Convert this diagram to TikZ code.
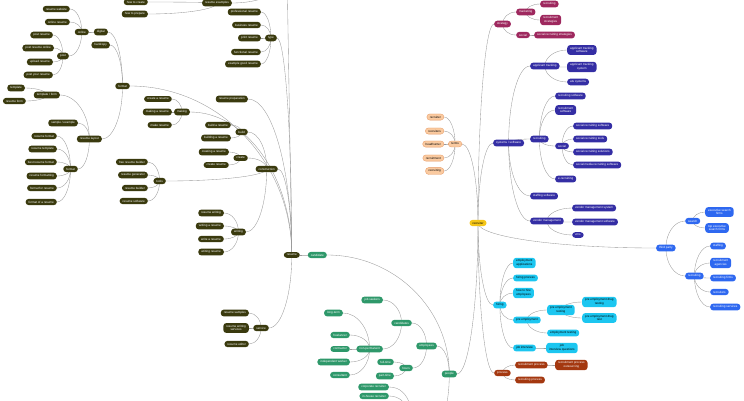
\documentclass[tikz,border=0pt]{standalone}
\usepackage{fontspec}
\setmainfont{Liberation Sans}
\usetikzlibrary{calc,backgrounds}
\definecolor{olivedk}{RGB}{58,58,14}
\definecolor{leaf}{RGB}{46,152,106}
\definecolor{plum}{RGB}{158,40,94}
\definecolor{navy}{RGB}{52,46,164}
\definecolor{peach}{RGB}{250,202,160}
\definecolor{peachdk}{RGB}{228,150,96}
\definecolor{gold}{RGB}{245,198,24}
\definecolor{sky}{RGB}{28,198,240}
\definecolor{rust}{RGB}{164,56,16}
\definecolor{azure}{RGB}{46,104,240}
\newcommand\lk[2]{\draw[link] (#1.east) .. controls ($(#1.east)!.55!(#2.center |- #1.east)$)
  and ($(#2.center)!.55!(#2.center |- #1.east)$) .. (#2.center);}
\newcommand\rk[2]{\draw[link] (#1.west) .. controls ($(#1.west)!.55!(#2.center |- #1.west)$)
  and ($(#2.center)!.55!(#2.center |- #1.west)$) .. (#2.center);}

\begin{document}
\begin{tikzpicture}[x=1pt,y=-1pt,
  every node/.style={font=\fontsize{3}{3.6}\selectfont,align=center},
  mm/.style={rounded corners=3pt,inner xsep=3pt,inner ysep=2pt},
  res/.style={mm,fill=olivedk,text=white},
  ppl/.style={mm,fill=leaf,text=white},
  strat/.style={mm,fill=plum,text=white},
  sys/.style={mm,fill=navy,text=white},
  term/.style={mm,fill=peach,draw=peachdk,line width=.3pt,text=black},
  hub/.style={mm,fill=gold,text=black},
  hire/.style={mm,fill=sky,text=black},
  proc/.style={mm,fill=rust,text=white},
  agcy/.style={mm,fill=azure,text=white},
  lft/.style={anchor=east},
  rgt/.style={anchor=west},
  link/.style={draw=black!40,line width=.35pt}
 ]
  \useasboundingbox (0,0) rectangle (744,400);
  \node[hub] (hub) at (478,223) {recruiter};
  \node[term,lft] (terms) at (462,144) {terms};
  \node[term,lft] (t1) at (444,117) {recruiter};
  \node[term,lft] (t2) at (444,131) {recruiters};
  \node[term,lft] (t3) at (444,144) {headhunter};
  \node[term,lft] (t4) at (444,158) {recruitment};
  \node[term,lft] (t5) at (444,171) {recruiting};

  \node[res,lft] (hcreate) at (148,2) {how to create};
  \node[res,lft] (hprep) at (148,14) {how to prepare};
  \node[res,lft] (rex) at (232,3) {resume examples};
  \coordinate (rtopc) at (287,-30);
  \node[res,lft] (type) at (277,38) {type};
  \node[res,lft] (ty1) at (261,12) {professional resume};
  \node[res,lft] (ty2) at (261,25) {business resume};
  \node[res,lft] (ty3) at (261,38) {print resume};
  \node[res,lft] (ty4) at (261,52) {functional resume};
  \node[res,lft] (ty5) at (261,64) {example good resume};
  \node[res,lft] (fmt) at (130,86) {format};
  \node[res,lft] (digi) at (108,32) {digital};
  \node[res,lft] (hard) at (110,45) {hardcopy};
  \node[res,lft] (onl) at (89,32) {online};
  \node[res,lft] (on1) at (70,9) {resume website};
  \node[res,lft] (on2) at (70,22) {online resume};
  \node[res,lft] (post) at (69,56) {post};
  \node[res,lft] (po1) at (53,35) {post resume};
  \node[res,lft] (po2) at (54,48) {post resume online};
  \node[res,lft] (po3) at (53,62) {upload resume};
  \node[res,lft] (po4) at (53,75) {post your resume};
  \node[res,lft] (lay) at (102,139) {resume layout};
  \node[res,lft] (tpl) at (60,95) {template / form};
  \node[res,lft] (tp1) at (25,88) {template};
  \node[res,lft] (tp2) at (26,101) {resume form};
  \node[res,lft] (smp) at (78,123) {sample / example};
  \node[res,lft] (fmt2) at (78,169) {format};
  \node[res,lft] (fm1) at (57,136) {resume format};
  \node[res,lft] (fm2) at (57,149) {resume template};
  \node[res,lft] (fm3) at (57,162) {best resume format};
  \node[res,lft] (fm4) at (57,176) {resume formatting};
  \node[res,lft] (fm5) at (57,188) {format for resume};
  \node[res,lft] (fm6) at (57,202) {format of a resume};
  \node[res,lft] (prep) at (248,99) {resume preparation};
  \node[res,lft] (mak) at (190,112) {making};
  \node[res,lft] (mk1) at (172,99) {create a resume};
  \node[res,lft] (mk2) at (172,112) {making a resume};
  \node[res,lft] (mk3) at (172,125) {make resume};
  \node[res,lft] (cons) at (278,169) {construction};
  \node[res,lft] (bld) at (248,132) {build};
  \node[res,lft] (bd1) at (231,125) {build a resume};
  \node[res,lft] (bd2) at (231,138) {building a resume};
  \node[res,lft] (crt) at (248,158) {create};
  \node[res,lft] (cr1) at (229,152) {creating a resume};
  \node[res,lft] (cr2) at (229,165) {create resume};
  \node[res,lft] (tool) at (166,181) {tools};
  \node[res,lft] (to1) at (148,162) {free resume builder};
  \node[res,lft] (to2) at (148,175) {resume generator};
  \node[res,lft] (to3) at (148,188) {resume builder};
  \node[res,lft] (to4) at (148,201) {resume software};
  \node[res,lft] (wri) at (246,232) {writing};
  \node[res,lft] (wr1) at (224,213) {resume writing};
  \node[res,lft] (wr2) at (224,226) {writing a resume};
  \node[res,lft] (wr3) at (224,239) {write a resume};
  \node[res,lft] (wr4) at (224,252) {writing resume};
  \node[res,lft] (svc) at (269,328) {service};
  \node[res,lft] (sv1) at (249,313) {resume samples};
  \node[res,lft] (sv2) at (249,328) {resume writing\\services};
  \node[res,lft] (sv3) at (249,344) {resume editor};
  \node[res,lft] (resume) at (300,255) {resume};

  \node[ppl,lft] (cand) at (327,255) {candidate};
  \node[ppl,lft] (people) at (457,374) {people};
  \node[ppl,lft] (emp) at (437,346) {employees};
  \node[ppl,lft] (cands) at (412,323) {candidates};
  \node[ppl,lft] (seek) at (383,300) {job seekers};
  \node[ppl,lft] (nonp) at (383,349) {non-permanent};
  \node[ppl,lft] (np1) at (343,313) {long-term};
  \node[ppl,lft] (np2) at (350,335) {freelancer};
  \node[ppl,lft] (np3) at (350,349) {contractor};
  \node[ppl,lft] (np4) at (350,362) {independent worker};
  \node[ppl,lft] (np5) at (350,375) {consultant};
  \node[ppl,lft] (hrs) at (413,368) {hours};
  \node[ppl,lft] (hr1) at (394,362) {full-time};
  \node[ppl,lft] (hr2) at (394,376) {part-time};
  \node[ppl,lft] (corp) at (389,387) {corporate recruiter};
  \node[ppl,lft] (inh) at (389,396) {in-house recruiter};
  \coordinate (staffc) at (414,440);

  \node[strat,rgt] (strat) at (494,24) {strategy};
  \node[strat,rgt] (mkt) at (516,12) {marketing};
  \node[strat,rgt] (mka) at (540,4) {recruiting};
  \node[strat,rgt] (mkb) at (540,20) {recruitment\\strategies};
  \node[strat,rgt] (soc) at (516,35) {social};
  \node[strat,rgt] (soca) at (534,35) {social recruiting strategies};

  \node[sys,rgt] (sys) at (493,143) {systems / software};
  \node[sys,rgt] (ats) at (530,66) {applicant tracking};
  \node[sys,rgt] (at1) at (567,50) {applicant tracking\\software};
  \node[sys,rgt] (at2) at (567,67) {applicant tracking\\system};
  \node[sys,rgt] (at3) at (567,82) {ats systems};
  \node[sys,rgt] (recs) at (530,139) {recruiting};
  \node[sys,rgt] (rs1) at (555,96) {recruiting software};
  \node[sys,rgt] (rs2) at (555,110) {recruitment\\software};
  \node[sys,rgt] (rsoc) at (555,146) {social};
  \node[sys,rgt] (so1) at (573,126) {social recruiting software};
  \node[sys,rgt] (so2) at (573,139) {social recruiting tools};
  \node[sys,rgt] (so3) at (573,152) {social recruiting solutions};
  \node[sys,rgt] (so4) at (573,165) {social media recruiting software};
  \node[sys,rgt] (rs3) at (555,179) {e-recruiting};
  \node[sys,rgt] (stf) at (530,196) {staffing software};
  \node[sys,rgt] (vm) at (530,221) {vendor management};
  \node[sys,rgt] (vm1) at (572,208) {vendor management system};
  \node[sys,rgt] (vm2) at (572,222) {vendor management software};
  \node[sys,rgt] (vm3) at (572,235) {vms};

  \node[hire,rgt] (hire) at (493,305) {hiring};
  \node[hire,rgt] (hi1) at (513,263) {employment\\applications};
  \node[hire,rgt] (hi2) at (513,278) {hiring process};
  \node[hire,rgt] (hi3) at (513,293) {how to hire\\employees};
  \node[hire,rgt] (pre) at (513,320) {pre employment};
  \node[hire,rgt] (pet) at (547,310) {pre employment\\testing};
  \node[hire,rgt] (pd1) at (582,302) {pre employment drug\\testing};
  \node[hire,rgt] (pd2) at (582,318) {pre employment drug\\test};
  \node[hire,rgt] (emt) at (547,333) {employment testing};
  \node[hire,rgt] (jint) at (513,348) {job interview};
  \node[hire,rgt] (jq) at (546,348) {job\\interview questions};

  \node[proc,rgt] (proc) at (494,373) {process};
  \node[proc,rgt] (rp) at (515,365) {recruitment process};
  \node[proc,rgt] (rpo) at (555,365) {recruitment process\\outsourcing};
  \node[proc,rgt] (rp2) at (515,380) {recruiting process};

  \node[agcy,rgt] (third) at (656,248) {third party};
  \node[agcy,rgt] (srch) at (685,221) {search};
  \node[agcy,rgt] (es1) at (705,212) {executive search\\firms};
  \node[agcy,rgt] (es2) at (705,228) {top executive\\search firms};
  \node[agcy,rgt] (agr) at (685,276) {recruiting};
  \node[agcy,rgt] (ag1) at (710,246) {staffing};
  \node[agcy,rgt] (ag2) at (710,263) {recruitment\\agencies};
  \node[agcy,rgt] (ag3) at (710,278) {recruiting firms};
  \node[agcy,rgt] (ag4) at (710,292) {recruiters};
  \node[agcy,rgt] (ag5) at (710,307) {recruiting services};

  \begin{scope}[on background layer]
    \lk{hcreate}{rex} \lk{hprep}{rex}
    \draw[link] (rex.east) to[out=0,in=-90] (rtopc);
    \draw[link] (rtopc) -- (resume.center);
    \lk{ty1}{type} \lk{ty2}{type} \lk{ty3}{type} \lk{ty4}{type} \lk{ty5}{type}
    \lk{type}{resume}
    \lk{on1}{onl} \lk{on2}{onl} \lk{post}{onl}
    \lk{po1}{post} \lk{po2}{post} \lk{po3}{post} \lk{po4}{post}
    \lk{onl}{digi} \lk{digi}{fmt} \lk{hard}{fmt} \lk{lay}{fmt} \lk{fmt}{resume}
    \lk{tp1}{tpl} \lk{tp2}{tpl} \lk{tpl}{lay} \lk{smp}{lay} \lk{fmt2}{lay}
    \lk{fm1}{fmt2} \lk{fm2}{fmt2} \lk{fm3}{fmt2} \lk{fm4}{fmt2} \lk{fm5}{fmt2} \lk{fm6}{fmt2}
    \lk{prep}{resume}
    \lk{mk1}{mak} \lk{mk2}{mak} \lk{mk3}{mak} \lk{mak}{resume}
    \lk{bd1}{bld} \lk{bd2}{bld} \lk{bld}{cons}
    \lk{cr1}{crt} \lk{cr2}{crt} \lk{crt}{cons}
    \lk{to1}{tool} \lk{to2}{tool} \lk{to3}{tool} \lk{to4}{tool} \lk{tool}{cons}
    \lk{wr1}{wri} \lk{wr2}{wri} \lk{wr3}{wri} \lk{wr4}{wri} \lk{wri}{cons}
    \lk{cons}{resume}
    \lk{sv1}{svc} \lk{sv2}{svc} \lk{sv3}{svc} \lk{svc}{resume}
    \lk{resume}{cand} \lk{cand}{people}
    \lk{seek}{cands}
    \lk{np1}{nonp} \lk{np2}{nonp} \lk{np3}{nonp} \lk{np4}{nonp} \lk{np5}{nonp}
    \lk{nonp}{cands} \lk{cands}{emp}
    \lk{hr1}{hrs} \lk{hr2}{hrs} \lk{hrs}{emp} \lk{emp}{people}
    \draw[link] (corp.east) to[out=0,in=90] (staffc);
    \draw[link] (inh.east) to[out=0,in=90] (staffc);
    \draw[link] (staffc) to[out=0,in=-90] (people.center);
    \lk{people}{hub}
    \lk{t1}{terms} \lk{t2}{terms} \lk{t3}{terms} \lk{t4}{terms} \lk{t5}{terms}
    \lk{terms}{hub}

    \rk{mka}{mkt} \rk{mkb}{mkt} \rk{mkt}{strat} \rk{soca}{soc} \rk{soc}{strat}
    \rk{strat}{hub}
    \rk{at1}{ats} \rk{at2}{ats} \rk{at3}{ats} \rk{ats}{sys}
    \rk{rs1}{recs} \rk{rs2}{recs} \rk{rsoc}{recs} \rk{rs3}{recs}
    \rk{so1}{rsoc} \rk{so2}{rsoc} \rk{so3}{rsoc} \rk{so4}{rsoc}
    \rk{recs}{sys} \rk{stf}{sys}
    \rk{vm1}{vm} \rk{vm2}{vm} \rk{vm3}{vm} \rk{vm}{sys}
    \rk{sys}{hub}
    \rk{hi1}{hire} \rk{hi2}{hire} \rk{hi3}{hire}
    \rk{pd1}{pet} \rk{pd2}{pet} \rk{pet}{pre} \rk{emt}{pre} \rk{pre}{hire}
    \rk{jq}{jint} \rk{jint}{hire}
    \rk{hire}{hub}
    \rk{rpo}{rp} \rk{rp}{proc} \rk{rp2}{proc} \rk{proc}{hub}
    \rk{es1}{srch} \rk{es2}{srch} \rk{srch}{third}
    \rk{ag1}{agr} \rk{ag2}{agr} \rk{ag3}{agr} \rk{ag4}{agr} \rk{ag5}{agr}
    \rk{agr}{third} \rk{third}{hub}
  \end{scope}
\end{tikzpicture}
\end{document}
